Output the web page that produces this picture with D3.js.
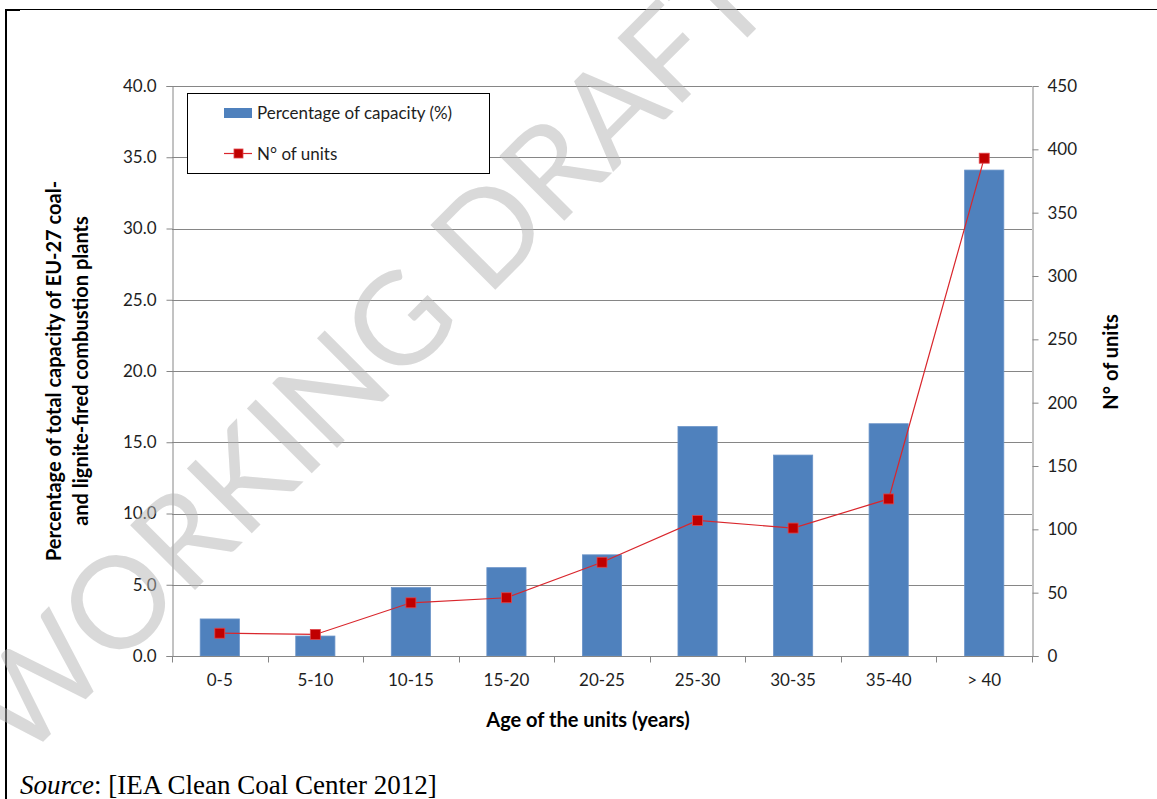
<!DOCTYPE html>
<html>
<head>
<meta charset="utf-8">
<script src="https://cdn.jsdelivr.net/npm/d3@7"></script>
<style>
  html, body { margin: 0; padding: 0; background: #fff; }
  svg { display: block; }
</style>
</head>
<body>
<svg id="chart" width="1157" height="799"></svg>
<script>
const categories = ["0-5", "5-10", "10-15", "15-20", "20-25", "25-30", "30-35", "35-40", "> 40"];
const capacityPct = [2.6, 1.4, 4.8, 6.2, 7.1, 16.1, 14.1, 16.3, 34.1];
const unitCount = [18, 17, 42, 46, 74, 107, 101, 124, 393];
const leftTicks = [0, 5, 10, 15, 20, 25, 30, 35, 40];
const rightTicks = [0, 50, 100, 150, 200, 250, 300, 350, 400, 450];
const seriesNames = ["Percentage of capacity (%)", "N° of units"];
const xTitle = "Age of the units (years)";
const yLeftTitle = ["Percentage of total capacity of EU-27 coal-", "and lignite-fired combustion plants"];
const yRightTitle = "N° of units";
const watermark = "WORKING DRAFT";

const svg = d3.select("#chart");
const font = "Lato, 'Open Sans', sans-serif";
const plot = { left: 172, right: 1032, top: 86, bottom: 656 };
const axisGray = "#868686";
const textColor = "#1e1e1e";

const x = d3.scaleBand().domain(categories).range([plot.left, plot.right])
  .paddingInner(0.59).paddingOuter(0.295);
const xEdges = d3.scalePoint().domain(d3.range(categories.length + 1)).range([plot.left, plot.right]);
const yL = d3.scaleLinear().domain([0, 40]).range([plot.bottom, plot.top]);
const yR = d3.scaleLinear().domain([0, 450]).range([plot.bottom, plot.top]);

// frame
svg.append("line").attr("x1", 5).attr("x2", 1157).attr("y1", 9.5).attr("y2", 9.5).attr("stroke", "#000").attr("stroke-width", 1);
svg.append("line").attr("x1", 5).attr("x2", 20).attr("y1", 10).attr("y2", 10).attr("stroke", "#000").attr("stroke-width", 2);
svg.append("line").attr("x1", 6).attr("x2", 6).attr("y1", 9).attr("y2", 799).attr("stroke", "#000").attr("stroke-width", 2);

// gridlines
svg.append("g").selectAll("line").data(leftTicks.filter(d => d > 0)).join("line")
  .attr("x1", plot.left).attr("x2", plot.right)
  .attr("y1", d => Math.round(yL(d)) + 0.5).attr("y2", d => Math.round(yL(d)) + 0.5)
  .attr("stroke", axisGray).attr("stroke-width", 1);

// left axis
const gL = svg.append("g").attr("transform", `translate(${plot.left + 0.5},0)`)
  .call(d3.axisLeft(yL).tickValues(leftTicks).tickFormat(d3.format(".1f")).tickSize(6).tickPadding(10));
// right axis
const gR = svg.append("g").attr("transform", `translate(${plot.right + 0.5},0)`)
  .call(d3.axisRight(yR).tickValues(rightTicks).tickFormat(d3.format("d")).tickSize(6).tickPadding(9));
[gL, gR].forEach(g => {
  g.select(".domain").attr("stroke", axisGray);
  g.selectAll(".tick line").attr("stroke", axisGray);
  g.selectAll(".tick text").attr("fill", textColor).style("font-family", font).style("font-size", "17px");
});

// bars
svg.append("g").selectAll("rect").data(categories).join("rect")
  .attr("x", d => x(d)).attr("width", x.bandwidth())
  .attr("y", (d, i) => yL(capacityPct[i])).attr("height", (d, i) => yL(0) - yL(capacityPct[i]))
  .attr("fill", "#4f81bd").attr("stroke", "#6a93c8").attr("stroke-width", 0.8);

// x axis
const gX = svg.append("g").attr("transform", `translate(0,${plot.bottom + 0.5})`);
gX.append("line").attr("x1", plot.left).attr("x2", plot.right + 1).attr("stroke", axisGray);
gX.selectAll(".tk").data(d3.range(categories.length + 1)).join("line").attr("class", "tk")
  .attr("x1", d => Math.round(xEdges(d)) + 0.5).attr("x2", d => Math.round(xEdges(d)) + 0.5)
  .attr("y1", 0).attr("y2", 6).attr("stroke", axisGray);
gX.selectAll("text").data(categories).join("text")
  .attr("x", d => x(d) + x.bandwidth() / 2).attr("y", 29)
  .attr("text-anchor", "middle").attr("fill", textColor)
  .style("font-family", font).style("font-size", "17px").text(d => d);

// line series
const cx = (d, i) => x(categories[i]) + x.bandwidth() / 2;
const line = d3.line().x((d, i) => cx(d, i)).y(d => yR(d));
svg.append("path").datum(unitCount).attr("d", line)
  .attr("fill", "none").attr("stroke", "#d9262c").attr("stroke-width", 1.2);
svg.append("g").selectAll("rect").data(unitCount).join("rect")
  .attr("x", (d, i) => cx(d, i) - 5).attr("y", d => yR(d) - 5)
  .attr("width", 10).attr("height", 10)
  .attr("fill", "#c00000").attr("stroke", "#e0474c").attr("stroke-width", 0.8);

// axis titles
svg.append("text").attr("x", 588).attr("y", 727).attr("text-anchor", "middle")
  .attr("fill", "#000").style("font-family", font).style("font-size", "20px").style("font-weight", "bold")
  .text(xTitle);
yLeftTitle.forEach((t, i) => {
  svg.append("text").attr("transform", `translate(${61 + i * 27},371) rotate(-90)`)
    .attr("text-anchor", "middle").attr("fill", "#000")
    .style("font-family", font).style("font-size", "20px").style("font-weight", "bold").text(t);
});
svg.append("text").attr("transform", `translate(1118,362) rotate(-90)`)
  .attr("text-anchor", "middle").attr("fill", "#000")
  .style("font-family", font).style("font-size", "20px").style("font-weight", "bold").text(yRightTitle);

// legend
const lg = svg.append("g");
lg.append("rect").attr("x", 187.5).attr("y", 93.5).attr("width", 302).attr("height", 80)
  .attr("fill", "#fff").attr("stroke", "#000").attr("stroke-width", 1);
lg.append("rect").attr("x", 224).attr("y", 108).attr("width", 28).attr("height", 10).attr("fill", "#4f81bd");
lg.append("line").attr("x1", 224).attr("x2", 252).attr("y1", 153.5).attr("y2", 153.5).attr("stroke", "#d9262c").attr("stroke-width", 1.2);
lg.append("rect").attr("x", 234).attr("y", 149).attr("width", 9).attr("height", 9).attr("fill", "#c00000").attr("stroke", "#e0474c").attr("stroke-width", 0.8);
lg.selectAll("text").data(seriesNames).join("text")
  .attr("x", 257).attr("y", (d, i) => 119 + i * 41).attr("fill", textColor)
  .style("font-family", font).style("font-size", "17px").text(d => d);

// source
const src = svg.append("text").attr("x", 20).attr("y", 794)
  .style("font-family", "'Liberation Serif', 'Times New Roman', serif").style("font-size", "27px").attr("fill", "#000");
src.append("tspan").style("font-style", "italic").text("Source");
src.append("tspan").text(": [IEA Clean Coal Center 2012]");

// watermark
svg.append("text").attr("transform", "translate(365,350) rotate(-45)")
  .attr("text-anchor", "middle").attr("dominant-baseline", "central")
  .style("font-family", font).style("font-size", "128px")
  .attr("fill", "#b4b4b4").attr("fill-opacity", 0.5).text(watermark);
</script>
</body>
</html>
